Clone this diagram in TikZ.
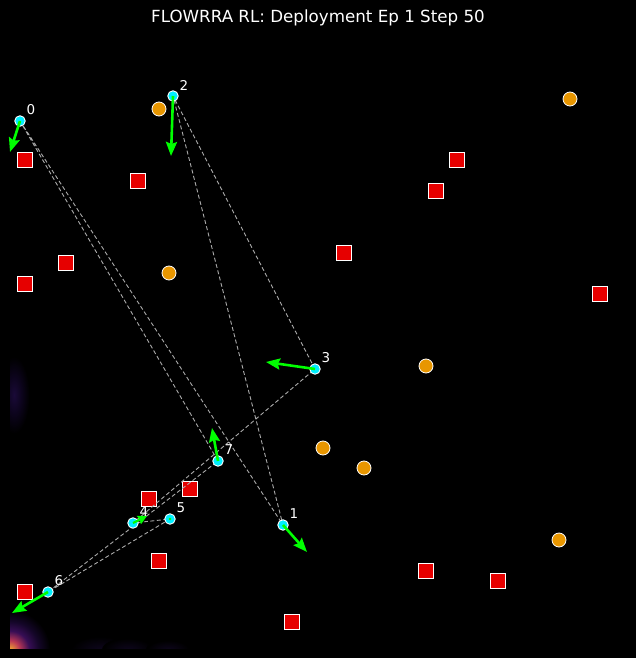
\documentclass[tikz,border=0pt]{standalone}
\usepackage{fontspec}
\setmainfont{DejaVu Sans}
\usetikzlibrary{arrows.meta}
\definecolor{bgc}{RGB}{0,0,0}
\definecolor{obsred}{RGB}{230,0,0}
\definecolor{goalor}{RGB}{232,150,0}
\definecolor{agcyan}{RGB}{0,238,255}
\definecolor{vgreen}{RGB}{0,255,0}
\definecolor{ringgray}{RGB}{170,170,170}
\definecolor{glowA}{RGB}{245,175,45}
\definecolor{glowB}{RGB}{185,55,85}
\definecolor{glowC}{RGB}{55,14,85}
\definecolor{glowC2}{RGB}{20,6,40}
\definecolor{glowD}{RGB}{26,10,56}
\definecolor{glowE}{RGB}{12,4,28}
\definecolor{glowF}{RGB}{14,6,30}
\pgfdeclareradialshading{cornerglow}{\pgfpoint{0bp}{0bp}}{color(0bp)=(glowA); color(6bp)=(glowB); color(12bp)=(glowC); color(18bp)=(glowC2); color(25bp)=(black); color(50bp)=(black)}
\pgfdeclareradialshading{edgeglow}{\pgfpoint{0bp}{0bp}}{color(0bp)=(glowD); color(12bp)=(glowE); color(24bp)=(black); color(50bp)=(black)}
\pgfdeclareradialshading{faintglow}{\pgfpoint{0bp}{0bp}}{color(0bp)=(glowF); color(24bp)=(black); color(50bp)=(black)}
\tikzset{
  obstacle/.style={draw=white, line width=0.9pt, fill=obsred, minimum size=15pt, inner sep=0pt, rectangle},
  goal/.style={draw=white, line width=0.8pt, fill=goalor, circle, minimum size=14pt, inner sep=0pt},
  agent/.style={draw=white, line width=0.9pt, fill=agcyan, circle, minimum size=10.5pt, inner sep=0pt},
  agentlabel/.style={text=white, font=\fontsize{13.5}{14}\selectfont, inner sep=0pt},
  ring/.style={draw=ringgray, line width=0.9pt, dash pattern=on 4pt off 2.5pt},
  vel/.style={draw=vgreen, line width=2.6pt, -{Stealth[length=14pt,width=11pt,inset=2pt]}},
  velsmall/.style={draw=vgreen, line width=2.2pt, -{Stealth[length=9pt,width=9pt,inset=1pt]}}
}
\begin{document}
\begin{tikzpicture}[x=1pt,y=-1pt]
\useasboundingbox (0,0) rectangle (636,658);
\fill[bgc] (0,0) rectangle (636,658);
% heat-map glow
\begin{scope}
\clip (10,40) rectangle (626,648);
\shade[shading=edgeglow] (14,395) ellipse (16 and 40);
\shade[shading=faintglow] (100,650) ellipse (30 and 14);
\shade[shading=faintglow] (128,650) ellipse (26 and 12);
\shade[shading=faintglow] (168,650) ellipse (22 and 10);
\shade[shading=cornerglow] (10,650) circle (40);
\end{scope}
% title
\node[text=white, font=\fontsize{16.7}{18}\selectfont] (title) at (318,18) {FLOWRRA RL: Deployment Ep 1 Step 50};
% obstacles
\node[obstacle] (o1) at (25,160) {};
\node[obstacle] (o2) at (138,181) {};
\node[obstacle] (o3) at (66,263) {};
\node[obstacle] (o4) at (25,284) {};
\node[obstacle] (o5) at (457,160) {};
\node[obstacle] (o6) at (436,191) {};
\node[obstacle] (o7) at (344,253) {};
\node[obstacle] (o8) at (600,294) {};
\node[obstacle] (o9) at (149,499) {};
\node[obstacle] (o10) at (190,489) {};
\node[obstacle] (o11) at (159,561) {};
\node[obstacle] (o12) at (25,592) {};
\node[obstacle] (o13) at (426,571) {};
\node[obstacle] (o14) at (498,581) {};
\node[obstacle] (o15) at (292,622) {};
% goals
\node[goal] (g1) at (159,109) {};
\node[goal] (g2) at (169,273) {};
\node[goal] (g3) at (570,99) {};
\node[goal] (g4) at (426,366) {};
\node[goal] (g5) at (323,448) {};
\node[goal] (g6) at (364,468) {};
\node[goal] (g7) at (559,540) {};
% agent positions
\coordinate (p0) at (20,121);
\coordinate (p1) at (283,525);
\coordinate (p2) at (173,96);
\coordinate (p3) at (315,369);
\coordinate (p4) at (133,523);
\coordinate (p5) at (170,519);
\coordinate (p6) at (48,592);
\coordinate (p7) at (218,461);
% ring
\draw[ring] (p0) -- (p1) -- (p2) -- (p3) -- (p4) -- (p5) -- (p6) -- (p7) -- (p0);
% agents
\foreach \i in {0,...,7} {
  \node[agent] (a\i) at (p\i) {};
  \node[agentlabel] (l\i) at ([shift={(11,-11)}]p\i) {\i};
}
% velocity arrows
\coordinate (v0) at (10,152);
\coordinate (v1) at (307,552);
\coordinate (v2) at (171,156);
\coordinate (v3) at (266,362);
\coordinate (v4) at (147,516);
\coordinate (v6) at (12,613);
\coordinate (v7) at (212,428);
\draw[vel] (a0.center) -- (v0);
\draw[vel] (a1.center) -- (v1);
\draw[vel] (a2.center) -- (v2);
\draw[vel] (a3.center) -- (v3);
\draw[velsmall] (a4.center) -- (v4);
\draw[vel] (a6.center) -- (v6);
\draw[vel] (a7.center) -- (v7);
\fill[vgreen] (a5.center) circle (1.3);
\end{tikzpicture}
\end{document}
